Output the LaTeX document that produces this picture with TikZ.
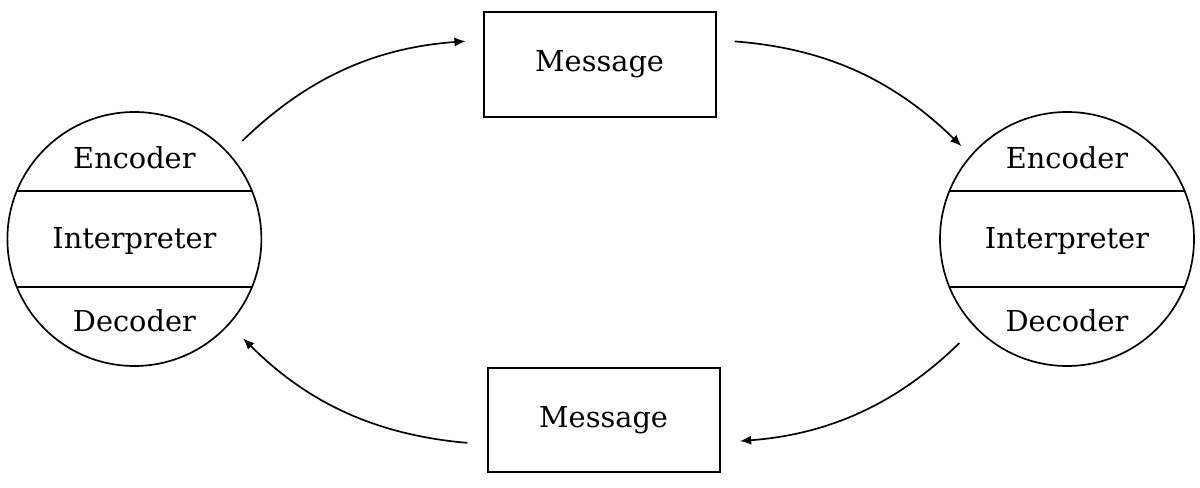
\documentclass[tikz,border=0pt]{standalone}
\usepackage{fontspec}
\setmainfont{DejaVu Serif}
\usetikzlibrary{arrows.meta,positioning}
\tikzset{every picture/.style={line width=1.2pt}}
\tikzstyle{party}=[circle,draw,minimum size=6.35cm,inner sep=0pt,outer sep=0pt]
\tikzstyle{msg}=[rectangle,draw,line width=1.4pt,minimum width=5.8cm,minimum height=2.62cm,outer sep=0pt]
\tikzstyle{layer}=[anchor=base]

\begin{document}
\begin{tikzpicture}[font=\fontsize{20.5}{24}\selectfont]
\useasboundingbox (0,0) rectangle (30,12.175);
\node[party] (L) at (3.36,6.2) {};
\node[party] (R) at (26.675,6.2) {};
\node[msg] (T) at (14.99,10.56) {Message};
\node[msg] (B) at (15.09,1.675) {Message};
% layers inside the two parties
\foreach \p in {L,R}{
  \draw ([shift={(-2.94,1.2)}]\p.center) -- ([shift={(2.94,1.2)}]\p.center);
  \draw ([shift={(-2.94,-1.2)}]\p.center) -- ([shift={(2.94,-1.2)}]\p.center);
}
\node[layer] (LE) at (3.36,7.95) {Encoder};
\node[layer] (LI) at (3.36,5.975) {Interpreter};
\node[layer] (LD) at (3.36,3.88) {Decoder};
\node[layer] (RE) at (26.675,7.95) {Encoder};
\node[layer] (RI) at (26.675,5.975) {Interpreter};
\node[layer] (RD) at (26.675,3.88) {Decoder};
\path[->,>={Latex[length=2.8mm,width=2.3mm]}]
(L.42.6) edge[bend left=20,shorten <=0.475cm,shorten >=0.45cm] (T.168.9)
(T.12.7) edge[bend left=20,shorten <=0.475cm,shorten >=0.34cm] (R.139.6)
(R.224.9) edge[bend left=20,shorten <=0.565cm,shorten >=0.51cm] (B.-11.4)
(B.192.7) edge[bend left=20,shorten <=0.51cm,shorten >=0.51cm] (L.-42.4);
\end{tikzpicture}
\end{document}
